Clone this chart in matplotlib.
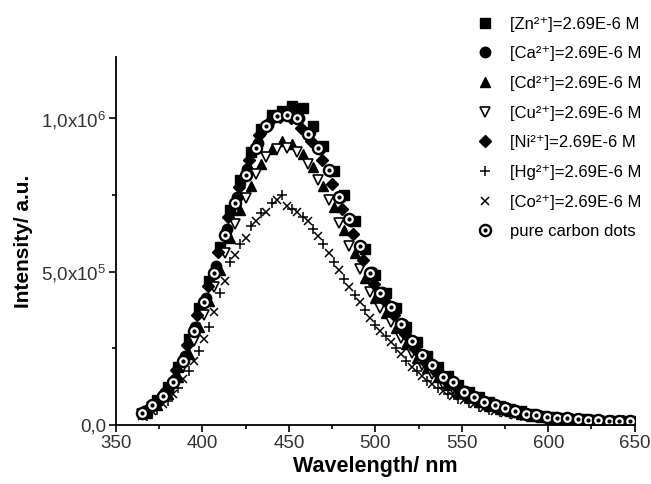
import matplotlib
matplotlib.use("Agg")
import matplotlib.pyplot as plt
from matplotlib.legend_handler import HandlerTuple
from matplotlib.ticker import MultipleLocator, FixedLocator

plt.rcParams["font.family"] = ["Liberation Sans", "DejaVu Sans"]
plt.rcParams["mathtext.default"] = "regular"

# wavelength grids (nm), the instrument points of each series are slightly offset
wl_a = [365, 371, 377, 383, 389, 395, 401, 407, 413, 419, 425, 431, 437, 443, 449, 455,
        461, 467, 473, 479, 485, 491, 497, 503, 509, 515, 521, 527, 533, 539, 545, 551,
        557, 563, 569, 575, 581, 587, 593, 599, 605, 611, 617, 623, 629, 635, 641, 647]
wl_b = [368, 374, 380, 386, 392, 398, 404, 410, 416, 422, 428, 434, 440, 446, 452, 458,
        464, 470, 476, 482, 488, 494, 500, 506, 512, 518, 524, 530, 536, 542, 548, 554,
        560, 566, 572, 578, 584, 590, 596, 602, 608, 614, 620, 626, 632, 638, 644, 650]
wl_c = [366, 372, 378, 384, 390, 396, 402, 408, 414, 420, 426, 432, 438, 444, 450, 456,
        462, 468, 474, 480, 486, 492, 498, 504, 510, 516, 522, 528, 534, 540, 546, 552,
        558, 564, 570, 576, 582, 588, 594, 600, 606, 612, 618, 624, 630, 636, 642, 648]
wl_d = [367, 373, 379, 385, 391, 397, 403, 409, 415, 421, 427, 433, 439, 445, 451, 457,
        463, 469, 475, 481, 487, 493, 499, 505, 511, 517, 523, 529, 535, 541, 547, 553,
        559, 565, 571, 577, 583, 589, 595, 601, 607, 613, 619, 625, 631, 637, 643, 649]

# intensities in units of 1e6 a.u.
zn = [0.045, 0.080, 0.125, 0.190, 0.280, 0.380, 0.470, 0.580, 0.700, 0.800, 0.890, 0.965,
      1.010, 1.025, 1.040, 1.035, 0.975, 0.910, 0.830, 0.750, 0.665, 0.575, 0.490, 0.430,
      0.380, 0.320, 0.270, 0.225, 0.190, 0.160, 0.130, 0.108, 0.090, 0.075, 0.062, 0.052,
      0.044, 0.036, 0.030, 0.026, 0.022, 0.020, 0.018, 0.016, 0.014, 0.013, 0.012, 0.012]
ca = [0.040, 0.066, 0.100, 0.150, 0.225, 0.320, 0.415, 0.520, 0.640, 0.745, 0.835, 0.920,
      0.980, 1.010, 1.015, 1.000, 0.955, 0.900, 0.830, 0.745, 0.665, 0.580, 0.500, 0.435,
      0.385, 0.330, 0.275, 0.228, 0.192, 0.157, 0.135, 0.110, 0.092, 0.076, 0.063, 0.054,
      0.045, 0.037, 0.031, 0.026, 0.023, 0.022, 0.019, 0.016, 0.014, 0.013, 0.012, 0.012]
cd = [0.040, 0.066, 0.100, 0.155, 0.230, 0.320, 0.405, 0.505, 0.610, 0.700, 0.780, 0.850,
      0.900, 0.925, 0.915, 0.885, 0.840, 0.780, 0.710, 0.635, 0.560, 0.480, 0.415, 0.365,
      0.315, 0.265, 0.220, 0.185, 0.155, 0.130, 0.108, 0.090, 0.075, 0.062, 0.052, 0.044,
      0.036, 0.030, 0.025, 0.021, 0.019, 0.018, 0.015, 0.013, 0.012, 0.011, 0.011, 0.010]
cu = [0.035, 0.058, 0.085, 0.128, 0.190, 0.275, 0.360, 0.450, 0.560, 0.655, 0.740, 0.820,
      0.875, 0.900, 0.905, 0.890, 0.850, 0.800, 0.735, 0.660, 0.585, 0.510, 0.435, 0.380,
      0.335, 0.285, 0.235, 0.195, 0.165, 0.135, 0.118, 0.095, 0.080, 0.066, 0.055, 0.047,
      0.039, 0.032, 0.027, 0.022, 0.020, 0.019, 0.017, 0.014, 0.012, 0.011, 0.011, 0.010]
ni = [0.045, 0.075, 0.115, 0.178, 0.262, 0.360, 0.452, 0.565, 0.680, 0.775, 0.865, 0.945,
      0.990, 1.005, 1.000, 0.970, 0.925, 0.865, 0.785, 0.705, 0.622, 0.538, 0.460, 0.408,
      0.358, 0.298, 0.248, 0.206, 0.172, 0.144, 0.120, 0.099, 0.082, 0.068, 0.057, 0.048,
      0.040, 0.034, 0.028, 0.024, 0.021, 0.020, 0.017, 0.015, 0.013, 0.012, 0.012, 0.011]
hg = [0.030, 0.050, 0.078, 0.120, 0.175, 0.240, 0.320, 0.430, 0.530, 0.590, 0.650, 0.690,
      0.725, 0.750, 0.705, 0.680, 0.640, 0.590, 0.530, 0.475, 0.425, 0.375, 0.325, 0.290,
      0.250, 0.210, 0.175, 0.145, 0.120, 0.100, 0.085, 0.072, 0.060, 0.050, 0.042, 0.036,
      0.030, 0.026, 0.022, 0.019, 0.017, 0.016, 0.014, 0.012, 0.011, 0.010, 0.010, 0.010]
co = [0.028, 0.045, 0.068, 0.100, 0.150, 0.210, 0.280, 0.370, 0.470, 0.555, 0.610, 0.665,
      0.695, 0.735, 0.715, 0.695, 0.665, 0.615, 0.560, 0.505, 0.450, 0.400, 0.350, 0.305,
      0.270, 0.230, 0.190, 0.160, 0.135, 0.110, 0.095, 0.080, 0.067, 0.056, 0.047, 0.040,
      0.034, 0.029, 0.025, 0.021, 0.019, 0.018, 0.016, 0.014, 0.012, 0.011, 0.011, 0.010]
pure = [0.038, 0.064, 0.094, 0.140, 0.210, 0.305, 0.400, 0.495, 0.620, 0.725, 0.815, 0.905,
        0.975, 1.008, 1.010, 1.000, 0.950, 0.905, 0.832, 0.745, 0.672, 0.585, 0.495, 0.432,
        0.385, 0.330, 0.275, 0.228, 0.195, 0.155, 0.140, 0.108, 0.092, 0.076, 0.064, 0.056,
        0.045, 0.037, 0.032, 0.026, 0.024, 0.024, 0.021, 0.017, 0.015, 0.014, 0.014, 0.013]

labels = [
    "[Zn\u00b2\u207a]=2.69E-6 M",
    "[Ca\u00b2\u207a]=2.69E-6 M",
    "[Cd\u00b2\u207a]=2.69E-6 M",
    "[Cu\u00b2\u207a]=2.69E-6 M",
    "[Ni\u00b2\u207a]=2.69E-6 M",
    "[Hg\u00b2\u207a]=2.69E-6 M",
    "[Co\u00b2\u207a]=2.69E-6 M",
    "pure carbon dots",
]

fig = plt.figure(figsize=(6.51, 4.84), dpi=100)
fig.patch.set_facecolor("white")
ax = fig.add_axes([0.178, 0.122, 0.797, 0.76])

handles = []
h, = ax.plot(wl_b, zn, ls="none", marker="s", ms=7.5, color="black")
handles.append(h)
h, = ax.plot(wl_c, ca, ls="none", marker="o", ms=7.5, color="black")
handles.append(h)
h, = ax.plot(wl_b, cd, ls="none", marker="^", ms=7.5, color="black")
handles.append(h)
h, = ax.plot(wl_a, cu, ls="none", marker="v", ms=7, mfc="white", mec="black", mew=1.2)
handles.append(h)
h, = ax.plot(wl_d, ni, ls="none", marker="D", ms=6.5, color="black")
handles.append(h)
h, = ax.plot(wl_b, hg, ls="none", marker="+", ms=7, mew=1.1, color="black")
handles.append(h)
h, = ax.plot(wl_a, co, ls="none", marker="x", ms=6, mew=1.1, color="black")
handles.append(h)
h1, = ax.plot(wl_a, pure, ls="none", marker="o", ms=8, mfc="white", mec="black", mew=1.7)
h2, = ax.plot(wl_a, pure, ls="none", marker="o", ms=2, color="black")
handles.append((h1, h2))

ax.set_xlim(350, 650)
ax.set_ylim(0, 1.2)
ax.xaxis.set_major_locator(MultipleLocator(50))
ax.xaxis.set_minor_locator(MultipleLocator(25))
ax.yaxis.set_major_locator(FixedLocator([0, 0.5, 1.0]))
ax.yaxis.set_minor_locator(FixedLocator([0.25, 0.75]))
ax.set_yticklabels(["0,0", "5,0x10$^5$", "1,0x10$^6$"])

for spine in ("top", "right"):
    ax.spines[spine].set_visible(False)
for spine in ("left", "bottom"):
    ax.spines[spine].set_linewidth(1.3)
ax.tick_params(which="major", direction="out", length=5, width=1.2, labelsize=13.5, pad=2)
ax.tick_params(which="minor", direction="out", length=3, width=1.2)
for lab in ax.get_xticklabels() + ax.get_yticklabels():
    lab.set_color("#333333")

ax.set_xlabel("Wavelength/ nm", fontsize=15.5, fontweight="bold", labelpad=3)
ax.set_ylabel("Intensity/ a.u.", fontsize=15, fontweight="bold", labelpad=6)

fig.legend(handles, labels, loc="upper left", bbox_to_anchor=(0.715, 0.99),
           frameon=False, fontsize=12, handlelength=1.0, handletextpad=1.0,
           labelspacing=0.88, borderaxespad=0.3,
           handler_map={tuple: HandlerTuple(ndivide=1)})

fig.savefig("out.png", dpi=100, facecolor="white")
